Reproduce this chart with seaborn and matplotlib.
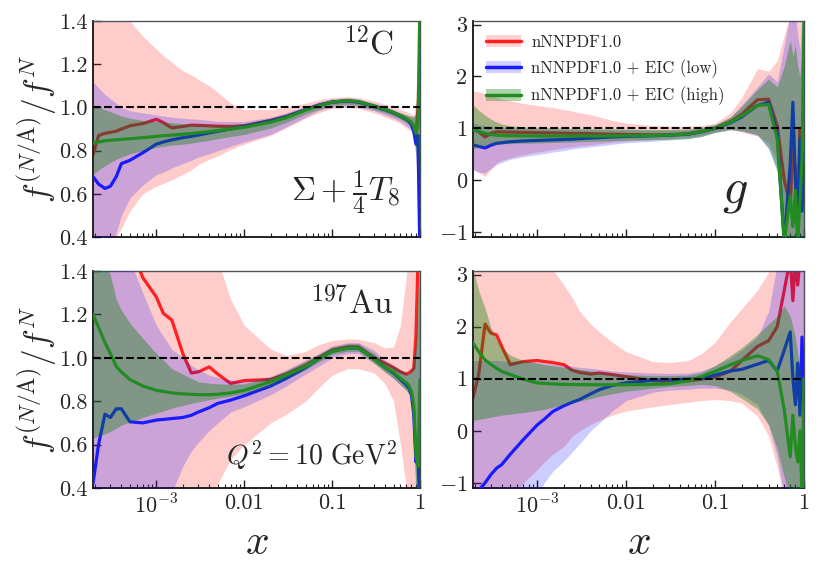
import numpy as np
import pandas as pd
import matplotlib
matplotlib.use("Agg")
import matplotlib.pyplot as plt
import seaborn as sns
from matplotlib.lines import Line2D
from matplotlib.patches import Patch
from matplotlib.ticker import LogLocator, NullFormatter

# common x grid (log spaced by eye)
x_vals = [1.9e-4, 2.2e-4, 2.6e-4, 3e-4, 3.5e-4, 4e-4, 5e-4, 7e-4, 1e-3, 1.2e-3, 1.5e-3, 2e-3,
          2.5e-3, 3e-3, 4e-3, 5e-3, 7e-3, 0.01, 0.02, 0.03, 0.05, 0.07, 0.1, 0.15, 0.2, 0.3,
          0.4, 0.5, 0.6, 0.7, 0.75, 0.8, 0.85, 0.9, 0.95, 1.0]

# ---- Sigma + T8/4, carbon ----
sc_red = [0.78, 0.87, 0.88, 0.885, 0.89, 0.90, 0.915, 0.925, 0.945, 0.93, 0.905, 0.912, 0.918, 0.917, 0.915, 0.913, 0.912, 0.915,
          0.94, 0.958, 0.99, 1.01, 1.025, 1.03, 1.025, 1.005, 0.99, 0.975, 0.96, 0.945, 0.937, 0.925, 0.91, 0.86, 1.0, 1.1]
sc_red_lo = [0.3, 0.3, 0.3, 0.32, 0.40, 0.44, 0.52, 0.60, 0.635, 0.648, 0.665, 0.69, 0.71, 0.735, 0.76, 0.775, 0.805, 0.83,
             0.87, 0.905, 0.95, 0.975, 0.995, 1.0, 0.995, 0.975, 0.955, 0.94, 0.925, 0.905, 0.895, 0.885, 0.86, 0.78, 0.4, 0.3]
sc_red_hi = [1.5, 1.5, 1.5, 1.5, 1.5, 1.47, 1.40, 1.33, 1.27, 1.24, 1.21, 1.17, 1.15, 1.13, 1.10, 1.07, 1.02, 0.99,
             0.99, 1.0, 1.02, 1.035, 1.045, 1.05, 1.045, 1.03, 1.015, 1.0, 0.99, 0.98, 0.975, 0.97, 0.96, 1.05, 1.3, 1.5]
sc_blue = [0.68, 0.645, 0.625, 0.635, 0.68, 0.74, 0.755, 0.79, 0.83, 0.84, 0.85, 0.86, 0.866, 0.872, 0.882, 0.89, 0.90, 0.912,
           0.937, 0.956, 0.99, 1.01, 1.025, 1.03, 1.025, 1.005, 0.99, 0.975, 0.96, 0.945, 0.935, 0.92, 0.89, 0.83, 0.87, 0.3]
sc_blue_lo = [0.3, 0.3, 0.3, 0.3, 0.42, 0.5, 0.58, 0.64, 0.69, 0.70, 0.72, 0.74, 0.755, 0.77, 0.785, 0.80, 0.82, 0.84,
              0.875, 0.91, 0.955, 0.985, 1.0, 1.005, 1.0, 0.985, 0.965, 0.95, 0.935, 0.915, 0.905, 0.895, 0.87, 0.76, 0.6, 0.3]
sc_blue_hi = [1.12, 1.09, 1.06, 1.04, 1.02, 1.0, 0.985, 0.975, 0.965, 0.96, 0.955, 0.95, 0.947, 0.945, 0.94, 0.935, 0.935, 0.935,
              0.955, 0.975, 1.005, 1.025, 1.04, 1.045, 1.04, 1.02, 1.005, 0.99, 0.975, 0.965, 0.96, 0.955, 0.95, 0.98, 1.1, 1.3]
sc_green = [0.835, 0.84, 0.845, 0.848, 0.85, 0.852, 0.855, 0.86, 0.866, 0.869, 0.872, 0.876, 0.879, 0.883, 0.888, 0.893, 0.90, 0.908,
            0.932, 0.952, 0.988, 1.008, 1.025, 1.032, 1.027, 1.007, 0.992, 0.977, 0.962, 0.947, 0.94, 0.93, 0.915, 0.88, 0.92, 1.5]
sc_green_lo = [0.69, 0.71, 0.73, 0.745, 0.76, 0.77, 0.785, 0.80, 0.815, 0.82, 0.825, 0.83, 0.835, 0.84, 0.848, 0.855, 0.865, 0.875,
               0.905, 0.93, 0.97, 0.99, 1.01, 1.015, 1.01, 0.99, 0.975, 0.96, 0.945, 0.93, 0.92, 0.905, 0.87, 0.80, 0.7, 0.4]
sc_green_hi = [1.01, 1.0, 0.99, 0.98, 0.97, 0.96, 0.95, 0.94, 0.935, 0.932, 0.93, 0.925, 0.923, 0.922, 0.92, 0.92, 0.92, 0.925,
               0.95, 0.97, 1.0, 1.02, 1.035, 1.04, 1.035, 1.015, 1.0, 0.985, 0.975, 0.965, 0.962, 0.96, 0.96, 0.97, 1.05, 1.45]

# ---- gluon, carbon ----
gc_red = [0.98, 0.93, 0.83, 0.90, 0.93, 0.93, 0.925, 0.92, 0.915, 0.912, 0.91, 0.905, 0.9, 0.9, 0.895, 0.89, 0.885, 0.88,
          0.87, 0.872, 0.895, 0.94, 1.005, 1.13, 1.27, 1.55, 1.56, 1.05, 0.0, -0.5, 0.6, 0.2, -0.8, 1.0, 0.4, 0.3]
gc_red_lo = [0.2, 0.15, 0.07, 0.2, 0.33, 0.38, 0.43, 0.49, 0.54, 0.56, 0.59, 0.62, 0.64, 0.66, 0.68, 0.7, 0.73, 0.75,
             0.78, 0.8, 0.83, 0.86, 0.92, 0.97, 0.93, 0.85, 0.72, 0.35, -1.2, -1.2, -1.2, -1.2, -1.2, -1.2, -1.2, -1.2]
gc_red_hi = [1.72, 1.7, 1.67, 1.63, 1.6, 1.57, 1.53, 1.48, 1.44, 1.42, 1.4, 1.36, 1.33, 1.3, 1.26, 1.22, 1.15, 1.1,
             1.05, 1.04, 1.04, 1.05, 1.1, 1.3, 1.6, 2.15, 2.1, 2.3, 2.8, 3.2, 3.2, 3.2, 3.2, 3.2, 3.2, 3.2]
gc_blue = [0.68, 0.65, 0.62, 0.67, 0.71, 0.72, 0.74, 0.755, 0.765, 0.77, 0.775, 0.785, 0.79, 0.80, 0.81, 0.82, 0.832, 0.842,
           0.855, 0.865, 0.885, 0.93, 0.995, 1.11, 1.22, 1.44, 1.5, 0.9, -1.2, 0.3, 1.5, 0.0, -1.0, 0.8, -0.6, 0.5]
gc_blue_lo = [0.2, 0.15, 0.14, 0.22, 0.3, 0.34, 0.4, 0.45, 0.49, 0.51, 0.54, 0.57, 0.6, 0.62, 0.64, 0.66, 0.69, 0.72,
              0.75, 0.77, 0.8, 0.84, 0.92, 0.97, 0.94, 0.86, 0.6, 0.15, -1.2, -1.2, -1.2, -1.2, -1.2, -1.2, -1.2, -1.2]
gc_blue_hi = [1.1, 1.07, 1.05, 1.04, 1.03, 1.02, 1.01, 1.0, 0.99, 0.99, 0.985, 0.98, 0.98, 0.975, 0.975, 0.97, 0.97, 0.97,
              0.96, 0.96, 0.97, 1.0, 1.06, 1.22, 1.45, 1.8, 2.05, 1.9, 2.6, 3.2, 3.2, 3.2, 2.8, 2.5, 3.2, 3.2]
gc_green = [0.97, 0.94, 0.9, 0.88, 0.865, 0.86, 0.855, 0.852, 0.85, 0.85, 0.85, 0.85, 0.85, 0.85, 0.85, 0.85, 0.852, 0.855,
            0.86, 0.868, 0.89, 0.935, 1.0, 1.12, 1.24, 1.44, 1.46, 0.8, -1.2, -0.3, -0.9, -0.2, -1.2, -0.4, 0.4, 3.2]
gc_green_lo = [0.6, 0.63, 0.66, 0.68, 0.69, 0.7, 0.705, 0.71, 0.715, 0.72, 0.725, 0.73, 0.735, 0.74, 0.745, 0.75, 0.76, 0.77,
               0.78, 0.785, 0.8, 0.84, 0.92, 0.98, 0.95, 0.88, 0.62, 0.2, -1.2, -1.2, -1.2, -1.2, -1.2, -1.2, -1.2, -1.2]
gc_green_hi = [1.45, 1.35, 1.25, 1.18, 1.12, 1.08, 1.05, 1.03, 1.02, 1.015, 1.01, 1.005, 1.0, 1.0, 0.995, 0.99, 0.99, 0.985,
               0.975, 0.975, 0.985, 1.02, 1.07, 1.22, 1.42, 1.75, 1.95, 1.8, 2.2, 2.7, 2.4, 2.6, 2.2, 2.0, 2.5, 3.2]

# ---- Sigma + T8/4, gold ----
sa_red = [2.0, 1.95, 1.9, 1.85, 1.75, 1.65, 1.52, 1.37, 1.28, 1.205, 1.174, 1.02, 0.93, 0.935, 0.958, 0.925, 0.882, 0.895,
          0.9, 0.925, 0.965, 1.0, 1.035, 1.05, 1.05, 1.0, 0.975, 0.955, 0.935, 0.925, 0.93, 0.94, 0.95, 1.1, 1.45, 1.6]
sa_red_lo = [0.3, 0.3, 0.3, 0.3, 0.3, 0.3, 0.3, 0.3, 0.3, 0.3, 0.3, 0.3, 0.3, 0.3, 0.35, 0.42, 0.53, 0.6,
             0.7, 0.74, 0.8, 0.86, 0.92, 0.95, 0.95, 0.93, 0.88, 0.8, 0.6, 0.4, 0.3, 0.3, 0.3, 0.3, 0.3, 0.3]
sa_red_hi = [1.6, 1.6, 1.6, 1.6, 1.6, 1.6, 1.6, 1.6, 1.6, 1.6, 1.6, 1.6, 1.6, 1.6, 1.6, 1.45, 1.27, 1.15,
             1.04, 1.01, 1.03, 1.06, 1.08, 1.087, 1.085, 1.07, 1.045, 1.05, 1.15, 1.38, 1.5, 1.6, 1.6, 1.6, 1.6, 1.6]
sa_blue = [0.42, 0.6, 0.74, 0.725, 0.765, 0.765, 0.705, 0.70, 0.713, 0.716, 0.72, 0.725, 0.735, 0.75, 0.77, 0.79, 0.805, 0.825,
           0.87, 0.905, 0.955, 0.995, 1.03, 1.045, 1.045, 0.995, 0.955, 0.93, 0.9, 0.875, 0.86, 0.83, 0.74, 0.52, 0.55, 0.3]
sa_blue_lo = [0.3, 0.3, 0.3, 0.3, 0.3, 0.3, 0.3, 0.3, 0.3, 0.3, 0.38, 0.5, 0.57, 0.61, 0.665, 0.70, 0.75, 0.775,
              0.83, 0.87, 0.925, 0.96, 1.0, 1.02, 1.02, 0.975, 0.935, 0.905, 0.875, 0.85, 0.83, 0.77, 0.6, 0.35, 0.3, 0.3]
sa_blue_hi = [1.6, 1.6, 1.6, 1.6, 1.6, 1.6, 1.45, 1.3, 1.15, 1.1, 1.04, 1.0, 0.965, 0.945, 0.92, 0.91, 0.898, 0.89,
              0.915, 0.945, 0.99, 1.02, 1.055, 1.07, 1.07, 1.035, 0.99, 0.965, 0.945, 0.93, 0.925, 0.95, 0.98, 1.05, 1.2, 1.4]
sa_green = [1.20, 1.14, 1.07, 1.02, 0.96, 0.935, 0.9, 0.87, 0.85, 0.845, 0.838, 0.834, 0.832, 0.83, 0.83, 0.832, 0.838, 0.85,
            0.89, 0.92, 0.96, 0.995, 1.03, 1.045, 1.045, 0.995, 0.955, 0.935, 0.905, 0.885, 0.87, 0.845, 0.78, 0.55, 0.5, 0.9]
sa_green_lo = [0.63, 0.64, 0.65, 0.66, 0.675, 0.69, 0.705, 0.725, 0.745, 0.755, 0.768, 0.78, 0.79, 0.797, 0.807, 0.814, 0.823, 0.835,
               0.87, 0.9, 0.945, 0.98, 1.015, 1.03, 1.03, 0.975, 0.935, 0.905, 0.875, 0.85, 0.835, 0.8, 0.65, 0.4, 0.3, 0.3]
sa_green_hi = [1.5, 1.5, 1.45, 1.38, 1.27, 1.22, 1.16, 1.09, 1.02, 0.99, 0.95, 0.925, 0.905, 0.89, 0.883, 0.88, 0.878, 0.88,
               0.91, 0.94, 0.985, 1.015, 1.05, 1.065, 1.065, 1.02, 0.98, 0.96, 0.94, 0.93, 0.925, 0.94, 1.0, 1.1, 1.3, 1.5]

# ---- gluon, gold ----
ga_red = [0.63, 1.08, 2.05, 1.88, 1.84, 1.62, 1.27, 1.33, 1.35, 1.33, 1.31, 1.27, 1.16, 1.12, 1.09, 1.11, 1.08, 1.04,
          0.96, 0.95, 0.96, 0.99, 1.03, 1.15, 1.35, 1.62, 1.73, 2.0, 2.7, 3.3, 2.5, 3.3, 2.8, 3.3, 3.3, 3.3]
ga_red_lo = [-1.3, -1.3, -1.3, -1.3, -1.3, -1.3, -1.3, -1.0, -0.75, -0.6, -0.45, -0.3, -0.1, 0.0, 0.12, 0.2, 0.3, 0.38,
             0.46, 0.5, 0.55, 0.58, 0.6, 0.58, 0.53, 0.28, -0.1, -0.7, -1.3, -1.3, -1.3, -1.3, -1.3, -1.3, -1.3, -1.3]
ga_red_hi = [3.3, 3.3, 3.3, 3.3, 3.3, 3.3, 3.3, 3.3, 3.3, 3.3, 3.1, 2.8, 2.55, 2.3, 2.05, 1.9, 1.7, 1.52,
             1.33, 1.31, 1.35, 1.48, 1.7, 2.1, 2.35, 2.7, 3.05, 3.3, 3.3, 3.3, 3.3, 3.3, 3.3, 3.3, 3.3, 3.3]
ga_blue = [-1.3, -1.15, -1.0, -0.85, -0.72, -0.65, -0.45, -0.17, 0.11, 0.22, 0.37, 0.48, 0.55, 0.6, 0.71, 0.79, 0.87, 0.92,
           0.97, 0.98, 0.99, 1.01, 1.07, 1.15, 1.18, 1.28, 1.35, 1.15, 1.55, 1.9, 1.0, 0.5, 1.3, 0.3, 1.8, 0.5]
ga_blue_lo = [-1.3, -1.3, -1.3, -1.3, -1.3, -1.3, -1.3, -1.3, -1.3, -1.0, -0.78, -0.58, -0.4, -0.25, 0.0, 0.15, 0.38, 0.58,
              0.74, 0.78, 0.8, 0.82, 0.82, 0.78, 0.7, 0.5, 0.1, -0.5, -1.3, -1.3, -1.3, -1.3, -1.3, -1.3, -1.3, -1.3]
ga_blue_hi = [1.35, 1.35, 1.35, 1.35, 1.35, 1.34, 1.34, 1.34, 1.32, 1.3, 1.28, 1.26, 1.24, 1.22, 1.2, 1.18, 1.15, 1.13,
              1.11, 1.1, 1.11, 1.15, 1.25, 1.4, 1.55, 1.8, 2.3, 3.2, 3.3, 3.3, 3.3, 3.3, 3.3, 3.3, 3.3, 3.3]
ga_green = [1.69, 1.52, 1.36, 1.28, 1.2, 1.14, 1.08, 0.99, 0.92, 0.91, 0.9, 0.89, 0.888, 0.886, 0.885, 0.884, 0.884, 0.885,
            0.89, 0.9, 0.96, 1.04, 1.14, 1.27, 1.35, 1.44, 1.37, 1.15, 0.4, -0.5, 0.3, -0.3, -0.6, 0.0, -1.2, 1.0]
ga_green_lo = [0.2, 0.22, 0.24, 0.26, 0.28, 0.3, 0.32, 0.35, 0.39, 0.41, 0.45, 0.5, 0.54, 0.57, 0.62, 0.66, 0.71, 0.76,
               0.82, 0.85, 0.87, 0.89, 0.87, 0.75, 0.62, 0.42, 0.12, -0.35, -0.9, -1.3, -1.3, -1.3, -1.3, -1.3, -1.3, -1.3]
ga_green_hi = [3.1, 2.7, 2.35, 2.0, 1.75, 1.6, 1.45, 1.35, 1.3, 1.27, 1.25, 1.22, 1.2, 1.18, 1.15, 1.13, 1.1, 1.08,
               1.06, 1.06, 1.07, 1.12, 1.25, 1.45, 1.6, 1.85, 2.05, 2.2, 2.4, 2.2, 2.0, 1.8, 1.5, 1.2, 1.0, 1.0]

labels = ["nNNPDF1.0", "nNNPDF1.0 + EIC (low)", "nNNPDF1.0 + EIC (high)"]
line_colors = ["#ff2020", "#1a1aff", "#228b22"]
band_colors = ["red", "blue", "green"]
band_alpha = [0.2, 0.2, 0.36]

# style
sns.set_theme(style="ticks")
plt.rcParams['font.family'] = 'serif'
plt.rcParams['font.serif'] = ['cmr10']
plt.rcParams['mathtext.fontset'] = 'cm'
plt.rcParams['axes.unicode_minus'] = False
plt.rcParams['axes.formatter.use_mathtext'] = True

fig = plt.figure(figsize=(8.22, 5.76), dpi=100)
ax_tl = fig.add_axes([0.1131, 0.5885, 0.3978, 0.375])
ax_tr = fig.add_axes([0.5754, 0.5885, 0.4027, 0.375])
ax_bl = fig.add_axes([0.1131, 0.1528, 0.3978, 0.3767])
ax_br = fig.add_axes([0.5754, 0.1528, 0.4027, 0.3767])

panels = [
    (ax_tl, [(sc_red, sc_red_lo, sc_red_hi), (sc_blue, sc_blue_lo, sc_blue_hi), (sc_green, sc_green_lo, sc_green_hi)]),
    (ax_tr, [(gc_red, gc_red_lo, gc_red_hi), (gc_blue, gc_blue_lo, gc_blue_hi), (gc_green, gc_green_lo, gc_green_hi)]),
    (ax_bl, [(sa_red, sa_red_lo, sa_red_hi), (sa_blue, sa_blue_lo, sa_blue_hi), (sa_green, sa_green_lo, sa_green_hi)]),
    (ax_br, [(ga_red, ga_red_lo, ga_red_hi), (ga_blue, ga_blue_lo, ga_blue_hi), (ga_green, ga_green_lo, ga_green_hi)]),
]

for ax, sets in panels:
    ax.set_xscale('log')
    z = 1
    for k, (mid, lo, hi) in enumerate(sets):
        df = pd.DataFrame({'x': x_vals, 'mid': mid, 'lo': lo, 'hi': hi})
        ax.fill_between(df['x'], df['lo'], df['hi'], color=band_colors[k], alpha=band_alpha[k],
                        linewidth=0, zorder=z)
        sns.lineplot(data=df, x='x', y='mid', color=line_colors[k], lw=2.3, ax=ax,
                     zorder=z + 1, legend=False)
        z += 2
    ax.axhline(1.0, color='black', ls='--', lw=1.5, zorder=10)
    ax.set_xlim(1.9e-4, 1.0)
    ax.set_xlabel('')
    ax.set_ylabel('')
    ax.set_xticks([1e-3, 1e-2, 1e-1, 1.0])
    ax.set_xticklabels([r'$10^{-3}$', '0.01', '0.1', '1'])
    ax.xaxis.set_minor_locator(LogLocator(base=10, subs=np.arange(2, 10), numticks=20))
    ax.xaxis.set_minor_formatter(NullFormatter())
    ax.tick_params(which='both', direction='in', top=False, right=False, labelsize=16, pad=4)
    ax.tick_params(which='major', length=6, width=1.0, color='#222222')
    ax.tick_params(which='minor', length=3, width=0.8, color='#222222')
    for side in ['left', 'bottom']:
        ax.spines[side].set_linewidth(1.3)
        ax.spines[side].set_color('#111111')
    for side in ['top', 'right']:
        ax.spines[side].set_linewidth(1.0)
        ax.spines[side].set_color('#555555')

# y axes
for ax in [ax_tl, ax_bl]:
    ax.set_ylim(0.4, 1.4)
    ax.set_yticks([0.4, 0.6, 0.8, 1.0, 1.2, 1.4])
    ax.set_yticklabels(['0.4', '0.6', '0.8', '1.0', '1.2', '1.4'])
    ax.set_ylabel(r'$f^{(N/\mathrm{A})}/f^{N}$', fontsize=24)
    ax.yaxis.set_label_coords(-0.105, 0.5)
for ax in [ax_tr, ax_br]:
    ax.set_ylim(-1.1, 3.07)
    ax.set_yticks([-1, 0, 1, 2, 3])
    ax.set_yticklabels([r'$-1$', '0', '1', '2', '3'])

for ax in [ax_tl, ax_tr]:
    ax.tick_params(labelbottom=False)
for ax in [ax_bl, ax_br]:
    ax.set_xlabel(r'$x$', fontsize=30)
    ax.xaxis.set_label_coords(0.5, -0.17)

# panel labels
ax_tl.text(0.92, 0.845, r'$^{12}\mathrm{C}$', transform=ax_tl.transAxes, ha='right', va='baseline', fontsize=24)
ax_tl.text(0.94, 0.17, r'$\Sigma+\frac{1}{4}T_8$', transform=ax_tl.transAxes, ha='right', va='baseline', fontsize=24)
ax_tr.text(0.79, 0.16, r'$g$', transform=ax_tr.transAxes, ha='center', va='baseline', fontsize=36)
ax_bl.text(0.92, 0.80, r'$^{197}\mathrm{Au}$', transform=ax_bl.transAxes, ha='right', va='baseline', fontsize=24)
ax_bl.text(0.93, 0.105, r'$Q^2=10\ \mathrm{GeV}^2$', transform=ax_bl.transAxes, ha='right', va='baseline', fontsize=20)

# legend with band + line handles
handles = []
for k in range(3):
    handles.append((Patch(facecolor=band_colors[k], alpha=band_alpha[k] * 0.9, linewidth=0),
                    Line2D([], [], color=line_colors[k], lw=2.5)))
ax_tr.legend(handles, labels, loc='upper left', frameon=False, fontsize=12,
             handlelength=2.1, handletextpad=0.6, borderaxespad=0.4, labelspacing=0.55)

fig.savefig('out.png', dpi=100)
